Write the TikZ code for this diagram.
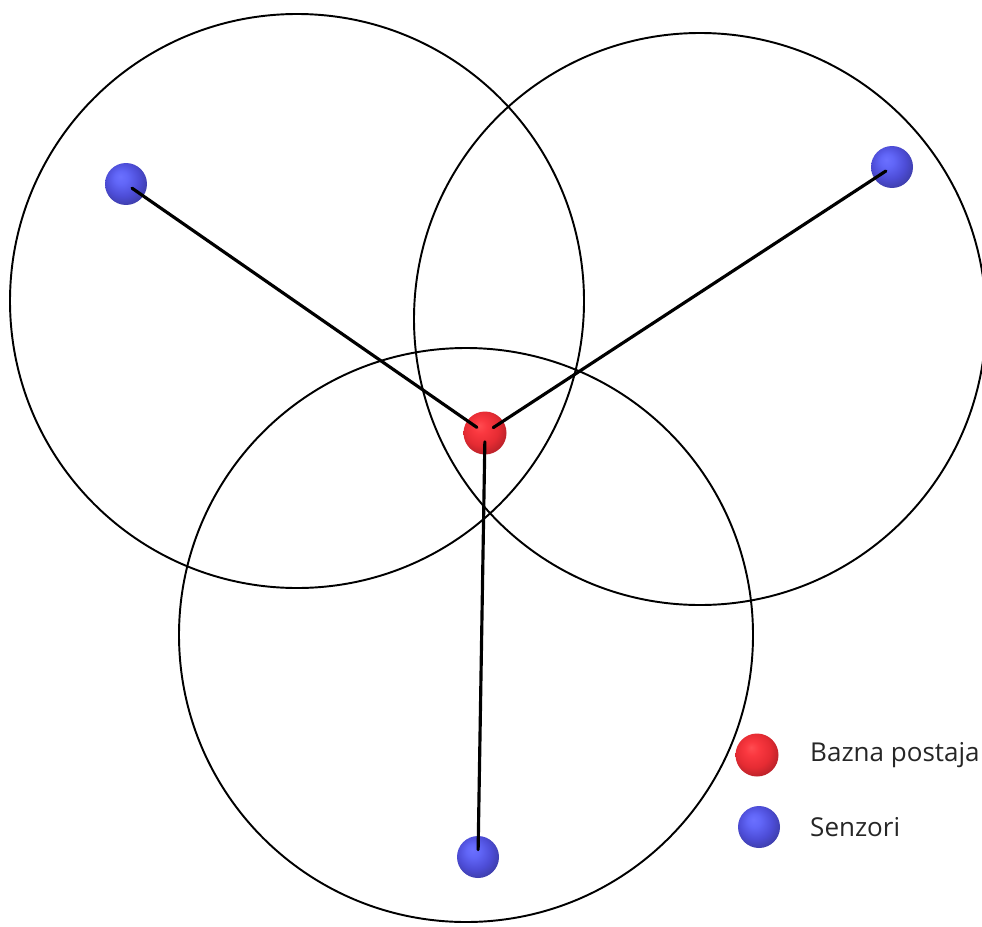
\documentclass[tikz,border=0pt]{standalone}
\usepackage{fontspec}
\setmainfont{Open Sans}
\pgfdeclareradialshading{softblue}{\pgfpoint{-7bp}{9bp}}{%
  rgb(0bp)=(0.42,0.44,1.0); rgb(8bp)=(0.38,0.40,0.97); rgb(20bp)=(0.30,0.30,0.84);
  rgb(30bp)=(0.24,0.24,0.66); rgb(38bp)=(0.22,0.22,0.58); rgb(50bp)=(0.22,0.22,0.58)}
\pgfdeclareradialshading{softred}{\pgfpoint{-7bp}{9bp}}{%
  rgb(0bp)=(1.0,0.30,0.32); rgb(8bp)=(0.98,0.22,0.25); rgb(20bp)=(0.90,0.17,0.20);
  rgb(30bp)=(0.72,0.13,0.16); rgb(38bp)=(0.62,0.12,0.14); rgb(50bp)=(0.62,0.12,0.14)}
\tikzset{
  rng/.style={draw=black, line width=1.1pt},
  link/.style={draw=black, line width=1.8pt, line cap=round},
  sensor/.style={circle, minimum size=0.84cm, inner sep=0pt, shading=softblue},
  base/.style={circle, minimum size=0.86cm, inner sep=0pt, shading=softred},
  lbl/.style={anchor=west, font=\fontsize{14.8}{17}\selectfont, text=black!85}
}
\begin{document}
\begin{tikzpicture}[x=0.02cm, y=-0.02cm]
\useasboundingbox (0,0) rectangle (982,926);
\fill[white] (0,0) rectangle (982,926);
% range circles
\draw[rng] (297,301) circle[radius=287*0.02cm];
\draw[rng] (700,319) circle[radius=286*0.02cm];
\draw[rng] (466,635) circle[radius=287*0.02cm];
% nodes
\node[sensor] (s1) at (126,184) {};
\node[sensor] (s2) at (892,167) {};
\node[sensor] (s3) at (478,857) {};
\node[base] (b) at (485,433) {};
% links
\draw[link, shorten <=-0.28cm, shorten >=-0.24cm] (s1) -- (b);
\draw[link, shorten <=-0.28cm, shorten >=-0.24cm] (s2) -- (b);
\draw[link, shorten <=-0.28cm, shorten >=-0.26cm] (s3) -- (b);
% legend
\node[base] (lb) at (757,755) {};
\node[sensor] (ls) at (759,827) {};
\node[lbl] (tb) at (804,755) {Bazna postaja};
\node[lbl] (ts) at (804,827) {Senzori};
\end{tikzpicture}
\end{document}
